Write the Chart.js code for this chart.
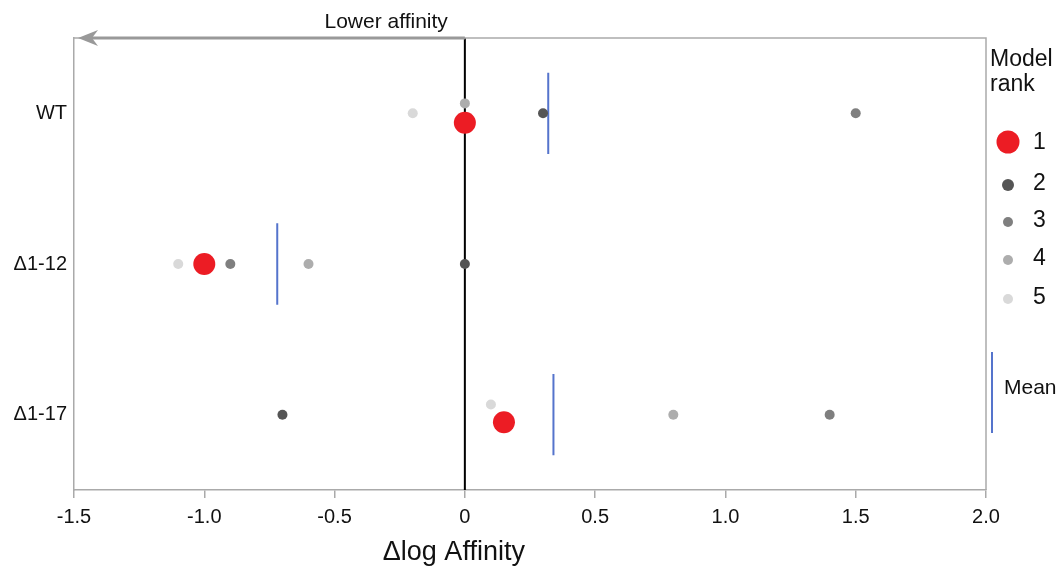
<!DOCTYPE html>
<html>
<head>
<meta charset="utf-8">
<script src="https://cdn.jsdelivr.net/npm/chart.js@4/dist/chart.umd.min.js"></script>
<style>
  html, body { margin: 0; padding: 0; background: #ffffff; }
  #wrap { width: 1063px; height: 567px; }
</style>
</head>
<body>
<div id="wrap"><canvas id="c" width="1063" height="567"></canvas></div>
<script>
// ---- Data ----
const categories = ['WT', '\u03941-12', '\u03941-17'];
const ranks = ['1', '2', '3', '4', '5'];
// Δlog affinity for each rank, per category (WT, Δ1-12, Δ1-17)
const rank1 = [0.0, -1.0, 0.15];
const rank2 = [0.3, 0.0, -0.7];
const rank3 = [1.5, -0.9, 1.4];
const rank4 = [0.0, -0.6, 0.8];
const rank5 = [-0.2, -1.1, 0.1];
// small vertical jitter of overlapping points (category units)
const jitter1 = [0.063, 0, 0.05];
const jitter2 = [0, 0, 0];
const jitter3 = [0, 0, 0];
const jitter4 = [-0.066, 0, 0];
const jitter5 = [0, 0, -0.068];
// mean per category
const means = [0.32, -0.72, 0.34];
const meanHalf = 0.27;
const xTicks = [-1.5, -1.0, -0.5, 0, 0.5, 1.0, 1.5, 2.0];

const rankColors = ['#ec1c24', '#555555', '#7f7f7f', '#adadad', '#d9d9d9'];
const rankRadius = [11, 5, 5, 5, 5];
const legendRadius = [11.5, 6, 5, 5, 5];
const meanColor = '#5574cc';
const FONT = '"Liberation Sans", Arial, Helvetica, sans-serif';

const rankValues = [rank1, rank2, rank3, rank4, rank5];
const rankJitter = [jitter1, jitter2, jitter3, jitter4, jitter5];

const datasets = [];
rankValues.forEach((vals, r) => {
  datasets.push({
    type: 'scatter',
    label: ranks[r],
    data: vals.map((v, i) => ({ x: v, y: i + rankJitter[r][i] })),
    backgroundColor: rankColors[r],
    borderColor: rankColors[r],
    borderWidth: 0,
    pointRadius: rankRadius[r],
    pointHoverRadius: rankRadius[r],
    order: r
  });
});
means.forEach((m, i) => {
  datasets.push({
    type: 'line',
    label: 'Mean',
    data: [{ x: m, y: i - meanHalf }, { x: m, y: i + meanHalf }],
    borderColor: meanColor,
    borderWidth: 2,
    pointRadius: 0,
    fill: false,
    order: 6
  });
});
datasets.push({
  type: 'line',
  label: 'zero',
  data: [{ x: 0, y: -0.5 }, { x: 0, y: 2.5 }],
  borderColor: '#000000',
  borderWidth: 2,
  pointRadius: 0,
  fill: false,
  order: 10
});

const decorPlugin = {
  id: 'decor',
  afterDatasetsDraw(chart) {
    const ctx = chart.ctx;
    const a = chart.chartArea;
    const xs = chart.scales.x;
    ctx.save();
    // top and right frame
    ctx.strokeStyle = '#aaaaaa';
    ctx.lineWidth = 1.5;
    ctx.beginPath();
    ctx.moveTo(a.left, a.top);
    ctx.lineTo(a.right, a.top);
    ctx.lineTo(a.right, a.bottom);
    ctx.stroke();
    // arrow "Lower affinity"
    const x0 = xs.getPixelForValue(0);
    const xl = xs.getPixelForValue(-1.5);
    ctx.strokeStyle = '#999999';
    ctx.fillStyle = '#999999';
    ctx.lineWidth = 3;
    ctx.beginPath();
    ctx.moveTo(x0, a.top);
    ctx.lineTo(xl + 12, a.top);
    ctx.stroke();
    ctx.beginPath();
    ctx.moveTo(xl + 4, a.top);
    ctx.lineTo(xl + 24, a.top - 8);
    ctx.lineTo(xl + 18, a.top);
    ctx.lineTo(xl + 24, a.top + 8);
    ctx.closePath();
    ctx.fill();
    ctx.fillStyle = '#111111';
    ctx.font = '21px ' + FONT;
    ctx.textAlign = 'right';
    ctx.textBaseline = 'alphabetic';
    ctx.fillText('Lower affinity', x0 - 17, 28);
    // axis title
    ctx.font = '27px ' + FONT;
    ctx.textAlign = 'center';
    ctx.fillText('\u0394log Affinity', x0 - 11, 560);
    // legend
    const lx = a.right + 4;
    ctx.textAlign = 'left';
    ctx.font = '23px ' + FONT;
    ctx.fillText('Model', lx, 66);
    ctx.fillText('rank', lx, 91);
    const legY = [142, 183, 220, 258, 297];
    ctx.font = '23px ' + FONT;
    ctx.textBaseline = 'middle';
    ranks.forEach((r, i) => {
      ctx.fillStyle = rankColors[i];
      ctx.beginPath();
      ctx.arc(lx + 18, legY[i] + (i === 0 ? 0 : 2), legendRadius[i], 0, Math.PI * 2);
      ctx.fill();
      ctx.fillStyle = '#111111';
      ctx.fillText(r, lx + 43, legY[i] + 1);
    });
    ctx.strokeStyle = meanColor;
    ctx.lineWidth = 2;
    ctx.beginPath();
    ctx.moveTo(lx + 2, 352);
    ctx.lineTo(lx + 2, 433);
    ctx.stroke();
    ctx.fillStyle = '#111111';
    ctx.font = '21px ' + FONT;
    ctx.fillText('Mean', lx + 14, 388);
    ctx.restore();
  }
};

new Chart(document.getElementById('c'), {
  data: { datasets },
  options: {
    responsive: false,
    animation: false,
    events: [],
    layout: { padding: { left: 0, right: 77, top: 38, bottom: 0 } },
    plugins: { legend: { display: false }, tooltip: { enabled: false } },
    scales: {
      x: {
        type: 'linear',
        min: -1.5,
        max: 2.0,
        afterBuildTicks: s => { s.ticks = xTicks.map(v => ({ value: v })); },
        afterFit: s => { s.height = 77; },
        grid: { drawOnChartArea: false, drawTicks: true, tickLength: 8, color: '#aaaaaa', lineWidth: 1.5 },
        border: { display: true, color: '#aaaaaa', width: 1.5 },
        ticks: {
          color: '#111111',
          font: { family: FONT, size: 20 },
          padding: 7,
          maxRotation: 0,
          callback: v => (v === 0 ? '0' : v.toFixed(1))
        }
      },
      y: {
        type: 'linear',
        reverse: true,
        min: -0.5,
        max: 2.5,
        afterBuildTicks: s => { s.ticks = categories.map((c, i) => ({ value: i })); },
        afterFit: s => { s.width = 74; },
        grid: { display: false, drawTicks: false },
        border: { display: true, color: '#aaaaaa', width: 1.5 },
        ticks: {
          color: '#111111',
          font: { family: FONT, size: 20 },
          padding: 7,
          callback: v => categories[v] !== undefined ? categories[v] : ''
        }
      }
    }
  },
  plugins: [decorPlugin]
});
</script>
</body>
</html>
